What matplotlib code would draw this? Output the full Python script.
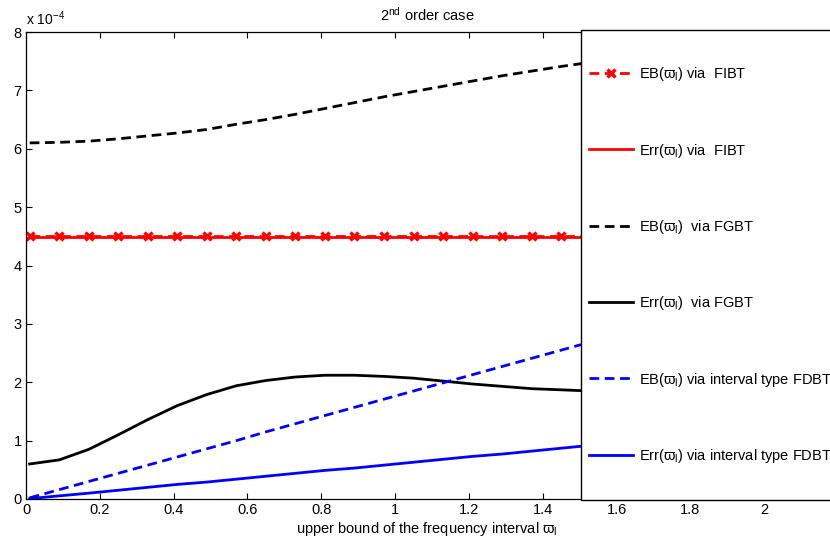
import matplotlib
matplotlib.use("Agg")
import matplotlib.pyplot as plt
from matplotlib.patches import Rectangle

plt.rcParams["font.family"] = ["Liberation Sans", "DejaVu Sans"]
plt.rcParams["mathtext.fontset"] = "custom"
plt.rcParams["mathtext.rm"] = "Liberation Sans"
plt.rcParams["mathtext.it"] = "Liberation Sans"
plt.rcParams["mathtext.fallback"] = "stixsans"
plt.rcParams["font.size"] = 10

# bornes supérieures de l'intervalle de fréquence
w_l = [0.01, 0.09, 0.17, 0.25, 0.33, 0.41, 0.49, 0.57, 0.65, 0.73,
       0.81, 0.89, 0.97, 1.05, 1.13, 1.21, 1.29, 1.37, 1.45, 1.53]

# valeurs en unités de 1e-4
eb_fibt = [4.50] * 20
err_fibt = [4.49] * 20
eb_fgbt = [6.10, 6.11, 6.13, 6.17, 6.22, 6.27, 6.33, 6.42, 6.50, 6.59,
           6.69, 6.79, 6.89, 6.98, 7.07, 7.16, 7.25, 7.33, 7.41, 7.48]
err_fgbt = [0.60, 0.67, 0.85, 1.10, 1.36, 1.60, 1.79, 1.94, 2.03, 2.09,
            2.12, 2.12, 2.10, 2.07, 2.02, 1.97, 1.93, 1.89, 1.87, 1.85]
eb_fdbt = [0.02, 0.16, 0.30, 0.44, 0.58, 0.72, 0.86, 1.00, 1.15, 1.29,
           1.43, 1.57, 1.71, 1.85, 1.99, 2.13, 2.27, 2.41, 2.55, 2.69]
err_fdbt = [0.006, 0.054, 0.10, 0.15, 0.20, 0.25, 0.29, 0.34, 0.39, 0.44,
            0.49, 0.53, 0.58, 0.63, 0.68, 0.73, 0.77, 0.82, 0.87, 0.92]

W = r"$\varpi_{\mathrm{l}}$"
labels = [
    f"EB({W}) via  FIBT",
    f"Err({W}) via  FIBT",
    f"EB({W})  via FGBT",
    f"Err({W})  via FGBT",
    f"EB({W}) via interval type FDBT",
    f"Err({W}) via interval type FDBT",
]

fig = plt.figure(figsize=(8.3, 5.45), dpi=100)
ax = fig.add_axes([26 / 830, 46 / 545, 802 / 830, 467 / 545])

lw = 2
ax.plot(w_l, eb_fibt, color="red", lw=lw, dashes=(3.5, 2), marker="x",
        ms=5.5, mew=2.4, label=labels[0])
ax.plot(w_l, err_fibt, color="red", lw=lw, label=labels[1])
ax.plot(w_l, eb_fgbt, color="black", lw=lw, dashes=(3.5, 2), label=labels[2])
ax.plot(w_l, err_fgbt, color="black", lw=lw, label=labels[3])
ax.plot(w_l, eb_fdbt, color="blue", lw=lw, dashes=(3.5, 2), label=labels[4])
ax.plot(w_l, err_fdbt, color="blue", lw=lw, label=labels[5])

ax.set_xlim(0, 2.173)
ax.set_ylim(0, 8)
ax.set_xticks([0, 0.2, 0.4, 0.6, 0.8, 1, 1.2, 1.4, 1.6, 1.8, 2])
ax.set_xticklabels(["0", "0.2", "0.4", "0.6", "0.8", "1", "1.2", "1.4",
                    "1.6", "1.8", "2"])
ax.set_yticks(range(9))
ax.tick_params(direction="in", top=True, right=True, length=4, width=0.8,
               labelsize=10.5, pad=3)
for s in ax.spines.values():
    s.set_linewidth(0.9)

ax.text(0, 1.008, r"x 10$^{-4}$", transform=ax.transAxes, fontsize=10,
        ha="left", va="bottom")
ax.set_title(r"2$^{\mathrm{nd}}$ order case", fontsize=10.5, pad=8)
ax.set_xlabel(f"upper bound of the frequency interval {W}", fontsize=10.5,
              labelpad=2)

# cadre de la légende, dessiné à part pour couvrir toute la hauteur
box = Rectangle((0.692, -0.002), 0.4, 1.006, transform=ax.transAxes,
                facecolor="white", edgecolor="black", lw=1.0, zorder=4,
                clip_on=False)
ax.add_patch(box)

leg = ax.legend(loc="center left", bbox_to_anchor=(0.702, 0.501),
                borderaxespad=0, borderpad=0, frameon=False, fontsize=10.5,
                handlelength=3.0, handletextpad=0.4, labelspacing=4.0,
                numpoints=1)
leg.set_zorder(5)

fig.savefig("out.png", dpi=100)
